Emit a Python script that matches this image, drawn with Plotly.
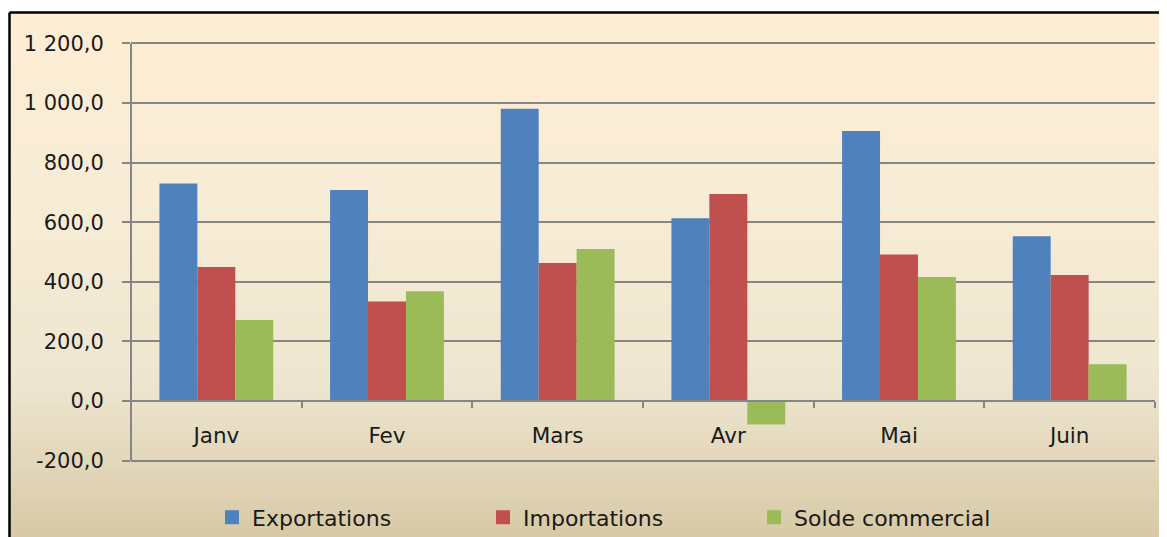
import plotly.graph_objects as go

categories = ["Janv", "Fev", "Mars", "Avr", "Mai", "Juin"]
exportations = [730, 708, 981, 613, 906, 553]
importations = [450, 334, 463, 695, 492, 423]
solde = [272, 368, 510, -79, 416, 123]

series_names = ["Exportations", "Importations", "Solde commercial"]
series_colors = ["#4F81BD", "#C0504D", "#9BBB59"]

ytick_vals = [-200, 0, 200, 400, 600, 800, 1000, 1200]
ytick_text = ["-200,0", "0,0", "200,0", "400,0", "600,0", "800,0", "1 000,0", "1 200,0"]

# page offset of the browser body margin
OFF = 8
W, H = 1167, 537
# y range padded slightly so the first/last gridlines are drawn
PAD = 8
YR = [-200 - PAD, 1200 + PAD]
k = (461 - 43) / 1400.0  # px per unit
padpx = PAD * k
L, T = 131 - OFF, 43 - OFF - padpx
R = W - (1155 - OFF)
B = H - (461 - OFF + padpx)
pw, ph = W - L - R, H - T - B

def px_x(px):  # px in reference page coords
    return (px - OFF - L) / pw

def px_y(py):
    return (H - B - (py - OFF)) / ph

FONT = "DejaVu Sans"
TXT = "#1a1a1a"

fig = go.Figure()
for name, vals, col in zip(series_names, [exportations, importations, solde], series_colors):
    fig.add_trace(go.Bar(name=name, x=categories, y=vals, marker_color=col,
                         marker_line_width=0, showlegend=False))
for name, col in zip(series_names, series_colors):
    fig.add_trace(go.Scatter(name=name, x=[None], y=[None], mode="markers",
                             marker=dict(symbol="square", size=14, color=col)))

# background gradient (decoration)
stops = [(12, (253, 237, 211)), (200, (248, 236, 214)), (380, (238, 230, 208)), (545, (214, 200, 164))]

def col_at(py):
    for (y0, c0), (y1, c1) in zip(stops[:-1], stops[1:]):
        if y0 <= py <= y1:
            t = (py - y0) / (y1 - y0)
            return "rgb(%d,%d,%d)" % tuple(round(a + (b - a) * t) for a, b in zip(c0, c1))
    return "rgb(%d,%d,%d)" % stops[-1][1]

shapes = []
n = 80
y_top, y_bot = 12, 548
for i in range(n):
    a = y_top + (y_bot - y_top) * i / n
    b = y_top + (y_bot - y_top) * (i + 1) / n
    shapes.append(dict(type="rect", xref="paper", yref="paper", layer="below",
                       x0=px_x(9), x1=px_x(1180), y0=px_y(b + 0.5), y1=px_y(a),
                       fillcolor=col_at((a + b) / 2), line=dict(width=0)))
# frame
shapes.append(dict(type="line", xref="paper", yref="paper", layer="above",
                   x0=px_x(9.5), x1=px_x(1180), y0=px_y(12), y1=px_y(12),
                   line=dict(color="black", width=2.5)))
shapes.append(dict(type="line", xref="paper", yref="paper", layer="above",
                   x0=px_x(9.5), x1=px_x(9.5), y0=px_y(12), y1=px_y(550),
                   line=dict(color="black", width=2.5)))

fig.update_layout(
    width=W, height=H,
    margin=dict(l=L, r=R, t=T, b=B, pad=0, autoexpand=False),
    paper_bgcolor="white",
    plot_bgcolor="rgba(0,0,0,0)",
    barmode="group", bargap=0.333, bargroupgap=0,
    font=dict(family=FONT, size=21, color=TXT),
    shapes=shapes,
    showlegend=True,
    legend=dict(orientation="h", x=px_x(212), xanchor="left", y=px_y(518), yanchor="middle",
                bgcolor="rgba(0,0,0,0)", font=dict(size=22, family=FONT, color=TXT),
                entrywidth=226, entrywidthmode="pixels", traceorder="normal"),
    xaxis=dict(anchor="free", position=(0 - YR[0]) / (YR[1] - YR[0]),
               showline=True, linecolor="#868686", linewidth=2,
               ticks="outside", tickson="boundaries", ticklen=6, tickcolor="#868686", tickwidth=2,
               showgrid=False, tickfont=dict(size=21.5, family=FONT, color=TXT),
               ticklabelstandoff=15, fixedrange=True),
    yaxis=dict(range=YR, tickvals=ytick_vals, ticktext=ytick_text,
               showgrid=True, gridcolor="#868686", gridwidth=1.5, zeroline=False,
               showline=False,
               ticks="outside", ticklen=8, tickcolor="#868686", tickwidth=1.5,
               tickfont=dict(size=21, family=FONT, color=TXT), ticklabelstandoff=14,
               fixedrange=True),
)
# left axis line spanning exactly -200..1200
fig.add_shape(type="line", xref="paper", yref="y", x0=0, x1=0, y0=-200, y1=1200,
              line=dict(color="#868686", width=2), layer="above")

fig.write_html("out.html")
